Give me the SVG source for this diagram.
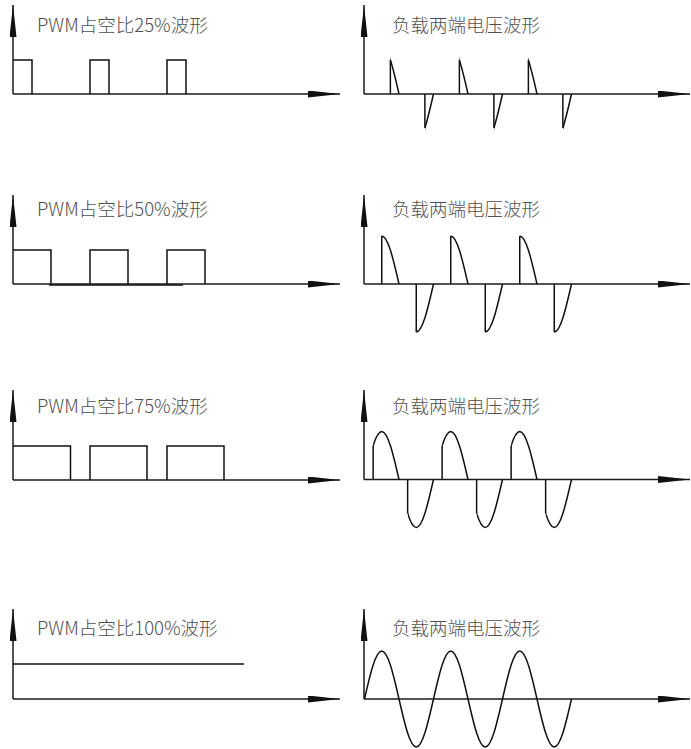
<svg xmlns="http://www.w3.org/2000/svg" xmlns:xlink="http://www.w3.org/1999/xlink" width="691" height="749" viewBox="0 0 691 749">
<style>
.ax{fill:none;stroke:#1a1a1a;stroke-width:1.5}
.w{fill:none;stroke:#111;stroke-width:1.5;stroke-linejoin:miter}
.t{font-family:"Noto Sans CJK SC","Noto Sans",sans-serif;font-size:18.5px;font-weight:300;fill:#505050}
</style>
<defs>
<marker id="arr" viewBox="0 0 32 7" refX="32" refY="3.5" markerWidth="32" markerHeight="7" markerUnits="userSpaceOnUse" orient="auto">
<path d="M0,0 L32,3.5 L0,7 Z" fill="#111"/>
</marker>
<clipPath id="c25" clipPathUnits="userSpaceOnUse"><rect x="25.875" y="-60" width="10" height="120"/></clipPath>
<clipPath id="c50" clipPathUnits="userSpaceOnUse"><rect x="17.25" y="-60" width="20" height="120"/></clipPath>
<clipPath id="c75" clipPathUnits="userSpaceOnUse"><rect x="8.625" y="-60" width="28" height="120"/></clipPath>
<path id="arch" d="M0,0 C5.626,-24.59 11.007,-48 17.25,-48 C23.493,-48 28.874,-24.59 34.5,0"/>
<g id="a25" class="w"><use xlink:href="#arch" href="#arch" clip-path="url(#c25)"/><path d="M25.875,0 V-33.94"/></g>
<g id="a50" class="w"><use xlink:href="#arch" href="#arch" clip-path="url(#c50)"/><path d="M17.25,0 V-48"/></g>
<g id="a75" class="w"><use xlink:href="#arch" href="#arch" clip-path="url(#c75)"/><path d="M8.625,0 V-33.94"/></g>
<g id="a100" class="w"><use xlink:href="#arch" href="#arch"/></g>
</defs>

<g id="pwm25">
<path class="ax" d="M13,94 V5" marker-end="url(#arr)"/>
<path class="ax" d="M13,94 H340" marker-end="url(#arr)"/>
<text class="t" x="37" y="32">PWM占空比25%波形</text>
<path class="w" d="M13,60 H32 V94 M90,94 V60 H109 V94 M167,94 V60 H186 V94"/>
</g>
<g id="load25">
<path class="ax" d="M364,94 V5" marker-end="url(#arr)"/>
<path class="ax" d="M364,94 H690" marker-end="url(#arr)"/>
<text class="t" x="392" y="32">负载两端电压波形</text>
<use href="#a25" xlink:href="#a25" transform="translate(364.5,94)"/>
<use href="#a25" xlink:href="#a25" transform="translate(433.5,94)"/>
<use href="#a25" xlink:href="#a25" transform="translate(502.5,94)"/>
<use href="#a25" xlink:href="#a25" transform="translate(399,94) scale(1,-1)"/>
<use href="#a25" xlink:href="#a25" transform="translate(468,94) scale(1,-1)"/>
<use href="#a25" xlink:href="#a25" transform="translate(537,94) scale(1,-1)"/>
</g>

<g id="pwm50">
<path class="ax" d="M13,284 V195" marker-end="url(#arr)"/>
<path class="ax" d="M13,284 H340" marker-end="url(#arr)"/>
<text class="t" x="37" y="216">PWM占空比50%波形</text>
<path class="w" d="M13,250 H51 V284 M90,284 V250 H128 V284 M167,284 V250 H205 V284"/>
<path class="w" d="M49,285 H183"/>
</g>
<g id="load50">
<path class="ax" d="M364,284 V195" marker-end="url(#arr)"/>
<path class="ax" d="M364,284 H690" marker-end="url(#arr)"/>
<text class="t" x="392" y="216">负载两端电压波形</text>
<use href="#a50" xlink:href="#a50" transform="translate(364.5,284)"/>
<use href="#a50" xlink:href="#a50" transform="translate(433.5,284)"/>
<use href="#a50" xlink:href="#a50" transform="translate(502.5,284)"/>
<use href="#a50" xlink:href="#a50" transform="translate(399,284) scale(1,-1)"/>
<use href="#a50" xlink:href="#a50" transform="translate(468,284) scale(1,-1)"/>
<use href="#a50" xlink:href="#a50" transform="translate(537,284) scale(1,-1)"/>
</g>

<g id="pwm75">
<path class="ax" d="M13,480 V390" marker-end="url(#arr)"/>
<path class="ax" d="M13,480 H340" marker-end="url(#arr)"/>
<text class="t" x="37" y="413">PWM占空比75%波形</text>
<path class="w" d="M13,446 H70.5 V480 M90,480 V446 H147 V480 M167,480 V446 H224 V480"/>
</g>
<g id="load75">
<path class="ax" d="M364,479.5 V390" marker-end="url(#arr)"/>
<path class="ax" d="M364,479.5 H690" marker-end="url(#arr)"/>
<text class="t" x="392" y="413">负载两端电压波形</text>
<use href="#a75" xlink:href="#a75" transform="translate(364.5,479.5)"/>
<use href="#a75" xlink:href="#a75" transform="translate(433.5,479.5)"/>
<use href="#a75" xlink:href="#a75" transform="translate(502.5,479.5)"/>
<use href="#a75" xlink:href="#a75" transform="translate(399,479.5) scale(1,-1)"/>
<use href="#a75" xlink:href="#a75" transform="translate(468,479.5) scale(1,-1)"/>
<use href="#a75" xlink:href="#a75" transform="translate(537,479.5) scale(1,-1)"/>
</g>

<g id="pwm100">
<path class="ax" d="M13,699 V609" marker-end="url(#arr)"/>
<path class="ax" d="M13,699 H340" marker-end="url(#arr)"/>
<text class="t" x="37" y="635">PWM占空比100%波形</text>
<path class="w" d="M13,664 H244"/>
</g>
<g id="load100">
<path class="ax" d="M364,699 V609" marker-end="url(#arr)"/>
<path class="ax" d="M364,699 H690" marker-end="url(#arr)"/>
<text class="t" x="392" y="635">负载两端电压波形</text>
<use href="#a100" xlink:href="#a100" transform="translate(364.5,699)"/>
<use href="#a100" xlink:href="#a100" transform="translate(433.5,699)"/>
<use href="#a100" xlink:href="#a100" transform="translate(502.5,699)"/>
<use href="#a100" xlink:href="#a100" transform="translate(399,699) scale(1,-1)"/>
<use href="#a100" xlink:href="#a100" transform="translate(468,699) scale(1,-1)"/>
<use href="#a100" xlink:href="#a100" transform="translate(537,699) scale(1,-1)"/>
</g>
</svg>
